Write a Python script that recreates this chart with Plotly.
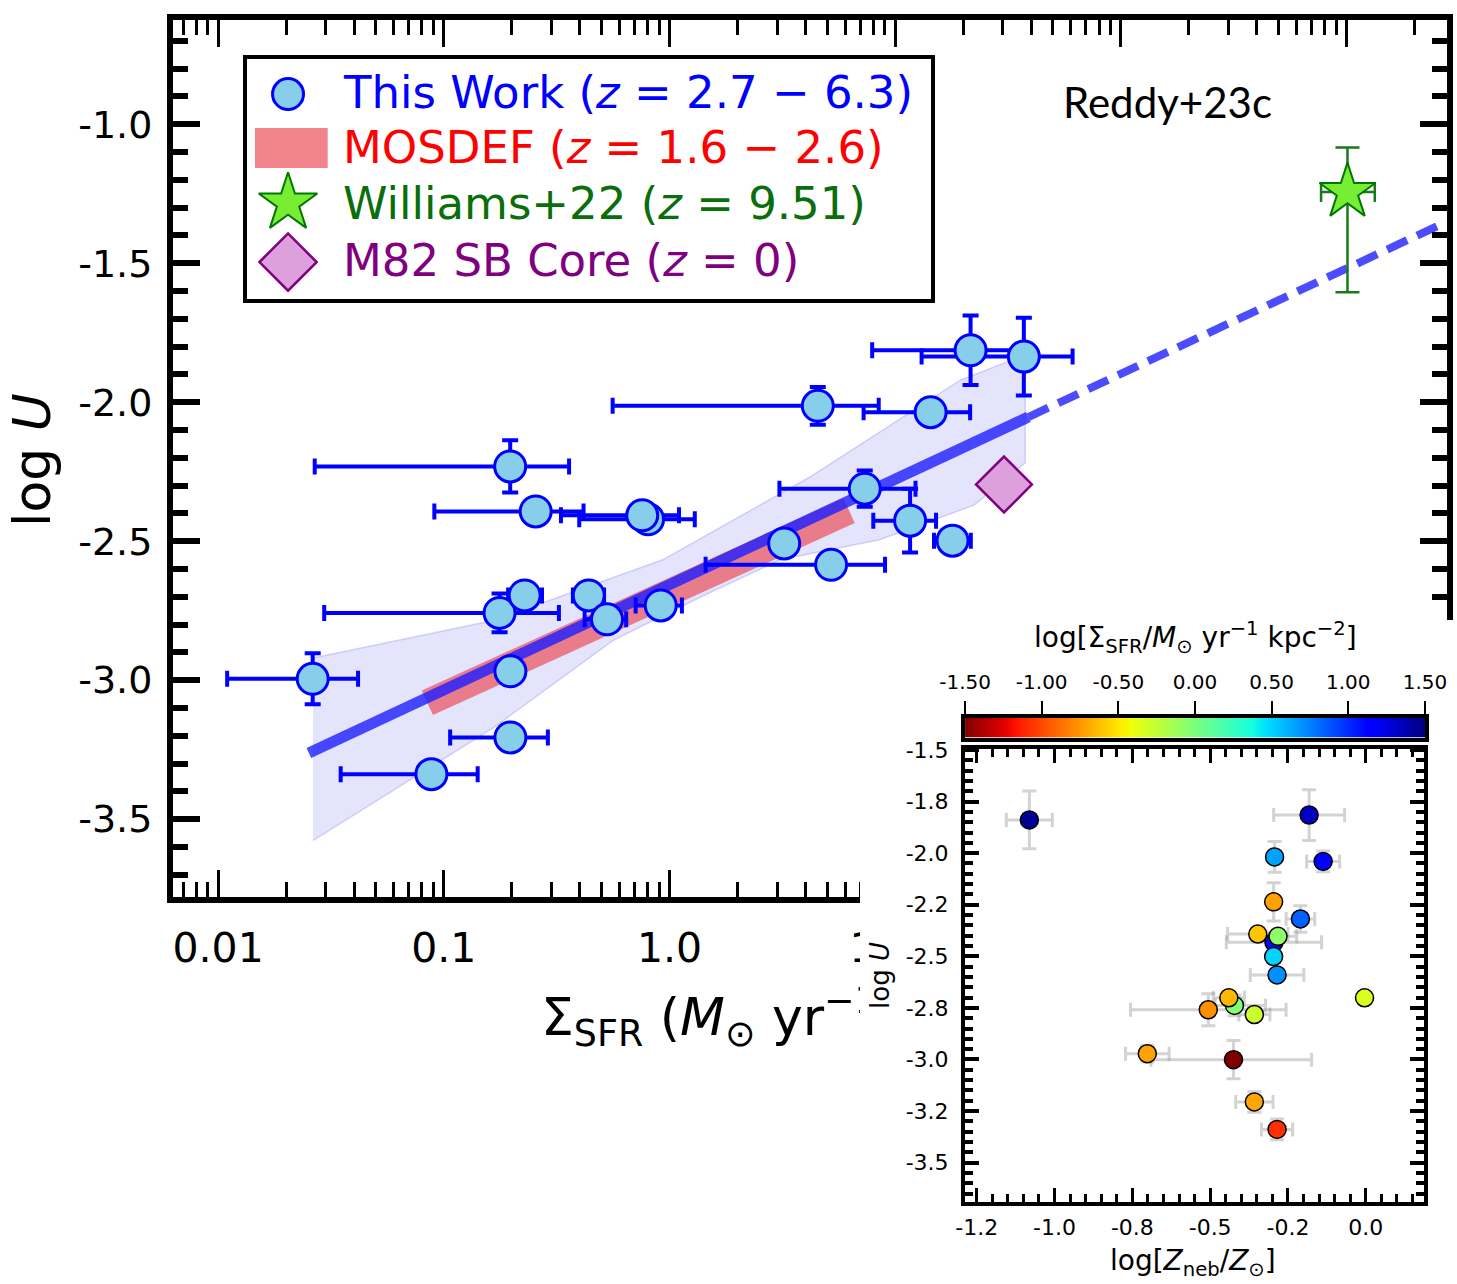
import numpy as np
import plotly.graph_objects as go

W, H = 1457, 1284
def fx(px): return px / W
def fy(py): return 1 - py / H

FONT = "DejaVu Sans"

# ---------------- main panel data (log10 Sigma_SFR, log U) ----------------
sfr_log    = [-1.581, -1.055, -0.705, -0.705, -0.753, -0.642, -0.358, -0.277, -0.039, 0.508, 0.716,
              -0.706, -0.593, -0.095, -0.121, 0.657, 0.865, 1.334, 1.570, 1.157, 1.254, 1.066]
logu       = [-2.995, -3.338, -3.206, -2.968, -2.758, -2.695, -2.695, -2.781, -2.731, -2.508, -2.585,
              -2.231, -2.393, -2.421, -2.407, -2.013, -2.311, -1.813, -1.836, -2.036, -2.498, -2.426]
sfr_lo_log = [-1.960, -1.457, -0.972, -0.705, -1.530, -0.715, -0.428, -0.376, -0.150, 0.508, 0.160,
              -1.572, -1.042, -0.400, -0.481, -0.252, 0.487, 0.898, 1.117, 0.860, 1.172, 0.903]
sfr_hi_log = [-1.380, -0.850, -0.539, -0.705, -0.490, -0.565, -0.290, -0.192, 0.055, 0.508, 0.955,
              -0.445, -0.381, 0.112, 0.042, 0.927, 1.090, 1.560, 1.786, 1.332, 1.335, 1.181]
logu_err   = [0.092, 0.0, 0.0, 0.0, 0.070, 0.030, 0.0, 0.0, 0.0, 0.0, 0.0,
              0.094, 0.0, 0.0, 0.020, 0.068, 0.065, 0.125, 0.140, 0.0, 0.0, 0.115]

fit_intercept = -2.656
fit_slope = 0.379
fit_solid_x = [-1.598, 1.59]
fit_dash_x = [1.59, 3.40]

band_upper_x = [-1.58, -0.78, -0.03, 0.62, 1.29, 1.576]
band_upper_y = [-2.92, -2.785, -2.567, -2.27, -1.92, -1.83]
band_lower_x = [-1.58, -0.78, -0.25, 0.14, 0.49, 0.93, 1.35, 1.576]
band_lower_y = [-3.577, -3.171, -2.857, -2.70, -2.567, -2.495, -2.37, -2.218]

mosdef_x_log = [-1.073, 0.796]
mosdef_u = [-3.081, -2.39]

williams_x_log, williams_xlo_log, williams_xhi_log = 3.004, 2.887, 3.125
williams_u, williams_u_hi, williams_u_lo = -1.244, -1.084, -1.604

m82_x_log, m82_u = 1.482, -2.296

x_tickvals = [0.01, 0.1, 1.0, 10.0, 100.0, 1000.0]
x_ticktext = ["0.01", "0.1", "1.0", "10.0", "100.0", "1000.0"]
y_tickvals = [-1.0, -1.5, -2.0, -2.5, -3.0, -3.5]
y_ticktext = ["-1.0", "-1.5", "-2.0", "-2.5", "-3.0", "-3.5"]

# ---------------- inset data ----------------
zneb      = [-1.081, -0.182, -0.293, -0.137, -0.296, -0.210, -0.347, -0.295, -0.282, -0.296, -0.285,
             -0.004, -0.422, -0.440, -0.506, -0.358, -0.702, -0.425, -0.358, -0.285]
inset_u   = [-1.839, -1.815, -2.018, -2.040, -2.236, -2.319, -2.392, -2.432, -2.403, -2.501, -2.590,
             -2.701, -2.738, -2.701, -2.759, -2.782, -2.972, -3.001, -3.206, -3.339]
zneb_elo  = [0.074, 0.114, 0.0, 0.053, 0.0, 0.046, 0.097, 0.153, 0.06, 0.0, 0.086,
             0.0, 0.062, 0.05, 0.25, 0.05, 0.07, 0.265, 0.06, 0.05]
zneb_ehi  = [0.074, 0.114, 0.0, 0.053, 0.0, 0.046, 0.097, 0.153, 0.06, 0.0, 0.086,
             0.0, 0.10, 0.05, 0.25, 0.05, 0.07, 0.251, 0.06, 0.05]
inset_uerr = [0.14, 0.123, 0.074, 0.05, 0.093, 0.064, 0.03, 0.05, 0.03, 0.0, 0.0,
              0.0, 0.05, 0.03, 0.077, 0.0, 0.04, 0.093, 0.05, 0.05]
inset_sfr = [1.44, 1.32, 0.65, 1.14, -0.72, 0.84, -0.60, 1.10, -0.07, 0.50, 0.70,
             -0.34, -0.015, -0.65, -0.78, -0.28, -0.72, -1.50, -0.70, -1.08]

ix_tickvals = [-1.25, -1.0, -0.75, -0.5, -0.25, 0.0]
ix_ticktext = ["-1.2", "-1.0", "-0.8", "-0.5", "-0.2", "0.0"]
iy_tickvals = [-1.5, -1.75, -2.0, -2.25, -2.5, -2.75, -3.0, -3.25, -3.5]
iy_ticktext = ["-1.5", "-1.8", "-2.0", "-2.2", "-2.5", "-2.8", "-3.0", "-3.2", "-3.5"]
cb_tickvals = [-1.5, -1.0, -0.5, 0.0, 0.5, 1.0, 1.5]
cb_ticktext = ["-1.50", "-1.00", "-0.50", "0.00", "0.50", "1.00", "1.50"]
cmin, cmax = -1.5, 1.5

# ---------------- matplotlib jet_r colourscale ----------------
def jet(s):
    r = np.interp(s, [0, 0.35, 0.66, 0.89, 1], [0, 0, 1, 1, 0.5])
    g = np.interp(s, [0, 0.125, 0.375, 0.64, 0.91, 1], [0, 0, 1, 1, 0, 0])
    b = np.interp(s, [0, 0.11, 0.34, 0.65, 1], [0.5, 1, 1, 0, 0])
    return "rgb(%d,%d,%d)" % (round(r * 255), round(g * 255), round(b * 255))
stops = sorted(set([0, 0.11, 0.125, 0.34, 0.35, 0.375, 0.64, 0.65, 0.66, 0.89, 0.91, 1]))
jet_r = [[round(1 - s, 4), jet(s)] for s in reversed(stops)]

# ---------------- geometry ----------------
main_px = dict(l=173, r=1447, t=20, b=897)
xr = [-2.2, 3.445]
yr = [-3.78, -0.625]

fig = go.Figure()
L = lambda v: [10 ** a for a in v]

# confidence band
bx = L(band_upper_x) + L(band_lower_x[::-1])
by = band_upper_y + band_lower_y[::-1]
fig.add_trace(go.Scatter(x=bx, y=by, fill="toself", mode="lines",
                         fillcolor="rgba(120,120,240,0.20)",
                         line=dict(color="rgba(140,140,240,0.35)", width=1.5),
                         hoverinfo="skip", showlegend=False))
# MOSDEF relation
fig.add_trace(go.Scatter(x=L(mosdef_x_log), y=mosdef_u, mode="lines",
                         line=dict(color="rgba(235,90,100,0.75)", width=27),
                         showlegend=False))
# fit line
fig.add_trace(go.Scatter(x=L(fit_solid_x), y=[fit_intercept + fit_slope * v for v in fit_solid_x],
                         mode="lines", line=dict(color="rgba(30,30,255,0.8)", width=11), showlegend=False))
fig.add_trace(go.Scatter(x=L(fit_dash_x), y=[fit_intercept + fit_slope * v for v in fit_dash_x],
                         mode="lines", line=dict(color="rgba(30,30,255,0.8)", width=8, dash="22px,11px"),
                         showlegend=False))
# this work
xs = L(sfr_log)
fig.add_trace(go.Scatter(
    x=xs, y=logu, mode="markers",
    marker=dict(size=31, color="#87CEEB", line=dict(color="#0000ff", width=3)),
    error_x=dict(type="data", symmetric=False,
                 array=[10 ** h - 10 ** c for h, c in zip(sfr_hi_log, sfr_log)],
                 arrayminus=[10 ** c - 10 ** l for l, c in zip(sfr_lo_log, sfr_log)],
                 color="#0000ff", thickness=4, width=8),
    error_y=dict(type="data", array=logu_err, color="#0000ff", thickness=4, width=8),
    showlegend=False))
# M82
fig.add_trace(go.Scatter(x=[10 ** m82_x_log], y=[m82_u], mode="markers",
                         marker=dict(symbol="diamond", size=43, color="#DDA0DD",
                                     line=dict(color="#800080", width=2.5)), showlegend=False))
# Williams+22
wx = 10 ** williams_x_log
fig.add_trace(go.Scatter(
    x=[wx], y=[williams_u], mode="markers",
    marker=dict(symbol="star", size=42, color="#77ee33", line=dict(color="#007700", width=2)),
    error_x=dict(type="data", symmetric=False, array=[10 ** williams_xhi_log - wx],
                 arrayminus=[wx - 10 ** williams_xlo_log], color="#1a7a1a", thickness=2.5, width=10),
    error_y=dict(type="data", symmetric=False, array=[williams_u_hi - williams_u],
                 arrayminus=[williams_u - williams_u_lo], color="#1a7a1a", thickness=2.5, width=12),
    showlegend=False))

# main x-axis title, drawn as text in a small carrier panel below the axes
# (so that the inset panel drawn later can cover its right-hand part, as in the original)
fig.add_trace(go.Scatter(
    x=[0.5], y=[0.5], mode="text", xaxis="x2", yaxis="y2",
    text=["Σ<sub>SFR</sub> (<i>M</i><sub>⊙</sub> yr<sup>−1</sup> kpc<sup>−2</sup>)"],
    textposition="middle right", textfont=dict(family=FONT, size=52, color="black"),
    cliponaxis=False, hoverinfo="skip", showlegend=False))

# cover panel (white background behind inset)
fig.add_trace(go.Scatter(x=[None], y=[None], xaxis="x3", yaxis="y3", showlegend=False))

# inset
fig.add_trace(go.Scatter(
    x=zneb, y=inset_u, mode="markers", xaxis="x4", yaxis="y4",
    marker=dict(size=18, color=inset_sfr, colorscale=jet_r, cmin=cmin, cmax=cmax,
                line=dict(color="black", width=1.5)),
    error_x=dict(type="data", symmetric=False, array=zneb_ehi, arrayminus=zneb_elo,
                 color="rgba(128,128,128,0.35)", thickness=3, width=7),
    error_y=dict(type="data", array=inset_uerr, color="rgba(128,128,128,0.35)", thickness=3, width=7),
    showlegend=False))

# colourbar strip
ncb = 300
step = (cmax - cmin) / ncb
cbar_levels = [cmin + step * (i + 0.5) for i in range(ncb)]
fig.add_trace(go.Heatmap(z=[cbar_levels], x=cbar_levels, y=[0.5], xaxis="x5", yaxis="y5",
                         colorscale=jet_r, zmin=cmin, zmax=cmax, showscale=False, hoverinfo="skip"))

# legend glyphs
fig.add_trace(go.Scatter(x=[0.06], y=[0.854], mode="markers", xaxis="x6", yaxis="y6",
                         marker=dict(size=31, color="#87CEEB", line=dict(color="#0000ff", width=3)),
                         showlegend=False))
fig.add_trace(go.Scatter(x=[0.0117, 0.118], y=[0.629, 0.629], mode="lines", xaxis="x6", yaxis="y6",
                         line=dict(color="rgba(235,90,100,0.75)", width=40), showlegend=False))
fig.add_trace(go.Scatter(x=[0.06], y=[0.40], mode="markers", xaxis="x6", yaxis="y6",
                         marker=dict(symbol="star", size=44, color="#77ee33", line=dict(color="#007700", width=2)),
                         showlegend=False))
fig.add_trace(go.Scatter(x=[0.06], y=[0.154], mode="markers", xaxis="x6", yaxis="y6",
                         marker=dict(symbol="diamond", size=44, color="#DDA0DD", line=dict(color="#800080", width=2.5)),
                         showlegend=False))

legend_rows = [
    ("This Work (<i>z</i> = 2.7 − 6.3)", "#0000ff", 0.8625),
    ("MOSDEF (<i>z</i> = 1.6 − 2.6)", "#ff0000", 0.633),
    ("Williams+22 (<i>z</i> = 9.51)", "#0a6e0a", 0.40),
    ("M82 SB Core (<i>z</i> = 0)", "#800080", 0.1625),
]
annotations = []
for txt, col, yy in legend_rows:
    annotations.append(dict(text=txt, x=0.138, y=yy, xref="x6", yref="y6", xanchor="left", yanchor="middle",
                            showarrow=False, font=dict(family=FONT, size=45, color=col)))

annotations += [
    dict(text="log <i>U</i>", x=fx(32), y=fy(460), xref="paper", yref="paper", textangle=-90,
         showarrow=False, xanchor="center", yanchor="middle", font=dict(family=FONT, size=52, color="black")),
    dict(text="Reddy+23c", x=fx(1167), y=fy(102), xref="paper", yref="paper", showarrow=False,
         xanchor="center", yanchor="middle", font=dict(family="Lato", size=42, color="black")),
    dict(text="log <i>U</i>", x=fx(880), y=fy(975), xref="paper", yref="paper", textangle=-90,
         showarrow=False, xanchor="center", yanchor="middle", font=dict(family=FONT, size=26, color="black")),
    dict(text="log[<i>Z</i><sub>neb</sub>/<i>Z</i><sub>⊙</sub>]", x=fx(1193), y=fy(1262), xref="paper",
         yref="paper", showarrow=False, xanchor="center", yanchor="middle",
         font=dict(family=FONT, size=28, color="black")),
    dict(text="log[Σ<sub>SFR</sub>/<i>M</i><sub>⊙</sub> yr<sup>−1</sup> kpc<sup>−2</sup>]", x=fx(1195),
         y=fy(637), xref="paper", yref="paper", showarrow=False, xanchor="center", yanchor="middle",
         font=dict(family=FONT, size=28, color="black")),
]

minor_x = [k * 10.0 ** d for d in range(-3, 4) for k in range(2, 10)]

ax_common = dict(showgrid=False, zeroline=False, showline=True, linecolor="black", mirror="ticks",
                 ticks="inside", tickcolor="black")
hidden = dict(visible=False, range=[0, 1], showgrid=False, zeroline=False)

# inset geometry
ipx = dict(l=965, r=1424, t=749, b=1202)
ix_range = [-1.25 - (976.7 - ipx["l"]) / 310.0, (ipx["r"] - 1366.0) / 310.0]
iy_range = [-2.0 - (ipx["b"] - 852.3) / 206.8, -1.495]

fig.update_layout(
    width=W, height=H, margin=dict(l=0, r=0, t=0, b=0, pad=0, autoexpand=False),
    paper_bgcolor="white", plot_bgcolor="white", showlegend=False,
    font=dict(family=FONT, color="black"),
    xaxis=dict(**ax_common, type="log", range=xr, domain=[fx(main_px["l"]), fx(main_px["r"])], anchor="y",
               linewidth=6, ticklen=27, tickwidth=3, tickvals=x_tickvals, ticktext=x_ticktext,
               tickfont=dict(size=41), ticklabelstandoff=10,
               minor=dict(tickvals=minor_x, ticks="inside", ticklen=15, tickwidth=3, tickcolor="black")),
    yaxis=dict(**ax_common, range=yr, domain=[fy(main_px["b"]), fy(main_px["t"])], anchor="x",
               linewidth=6, ticklen=27, tickwidth=6, tickvals=y_tickvals, ticktext=y_ticktext,
               tickfont=dict(size=38), ticklabelstandoff=7,
               minor=dict(dtick=0.1, tick0=0, ticks="inside", ticklen=15, tickwidth=6, tickcolor="black")),
    xaxis2=dict(**hidden, domain=[fx(531), fx(551)], anchor="y2"),
    yaxis2=dict(**hidden, domain=[fy(1040), fy(1004)], anchor="x2"),
    xaxis3=dict(**hidden, domain=[fx(860), 1], anchor="y3"),
    yaxis3=dict(**hidden, domain=[0, fy(620)], anchor="x3"),
    xaxis4=dict(**ax_common, range=ix_range, domain=[fx(ipx["l"]), fx(ipx["r"])], anchor="y4",
                linewidth=4, ticklen=14, tickwidth=3, tickvals=ix_tickvals, ticktext=ix_ticktext,
                tickfont=dict(size=22), ticklabelstandoff=3,
                minor=dict(dtick=0.05, tick0=0, ticks="inside", ticklen=8, tickwidth=3, tickcolor="black")),
    yaxis4=dict(**ax_common, range=iy_range, domain=[fy(ipx["b"]), fy(ipx["t"])], anchor="x4",
                linewidth=4, ticklen=14, tickwidth=4, tickvals=iy_tickvals, ticktext=iy_ticktext,
                tickfont=dict(size=22), ticklabelstandoff=8,
                minor=dict(dtick=0.05, tick0=0, ticks="inside", ticklen=8, tickwidth=4, tickcolor="black")),
    xaxis5=dict(range=[cmin - 0.0005, cmax + 0.0005], domain=[fx(965), fx(1425)], anchor="y5", side="top",
                showgrid=False, zeroline=False, showline=True, linecolor="black", linewidth=3.5, mirror=True,
                ticks="outside", ticklen=13, tickwidth=1.5, tickcolor="black", ticklabelstandoff=4,
                tickvals=cb_tickvals, ticktext=cb_ticktext, tickfont=dict(size=20)),
    yaxis5=dict(range=[0, 1], domain=[fy(737.5), fy(717.5)], anchor="x5", showgrid=False, zeroline=False,
                showline=True, linecolor="black", linewidth=3.5, mirror=True, ticks="", showticklabels=False),
    xaxis6=dict(range=[0, 1], domain=[fx(247), fx(931)], anchor="y6", showgrid=False, zeroline=False,
                showline=True, linecolor="black", linewidth=4, mirror=True, ticks="", showticklabels=False),
    yaxis6=dict(range=[0, 1], domain=[fy(299), fy(59)], anchor="x6", showgrid=False, zeroline=False,
                showline=True, linecolor="black", linewidth=4, mirror=True, ticks="", showticklabels=False),
    annotations=annotations,
)

fig.write_html("out.html")
